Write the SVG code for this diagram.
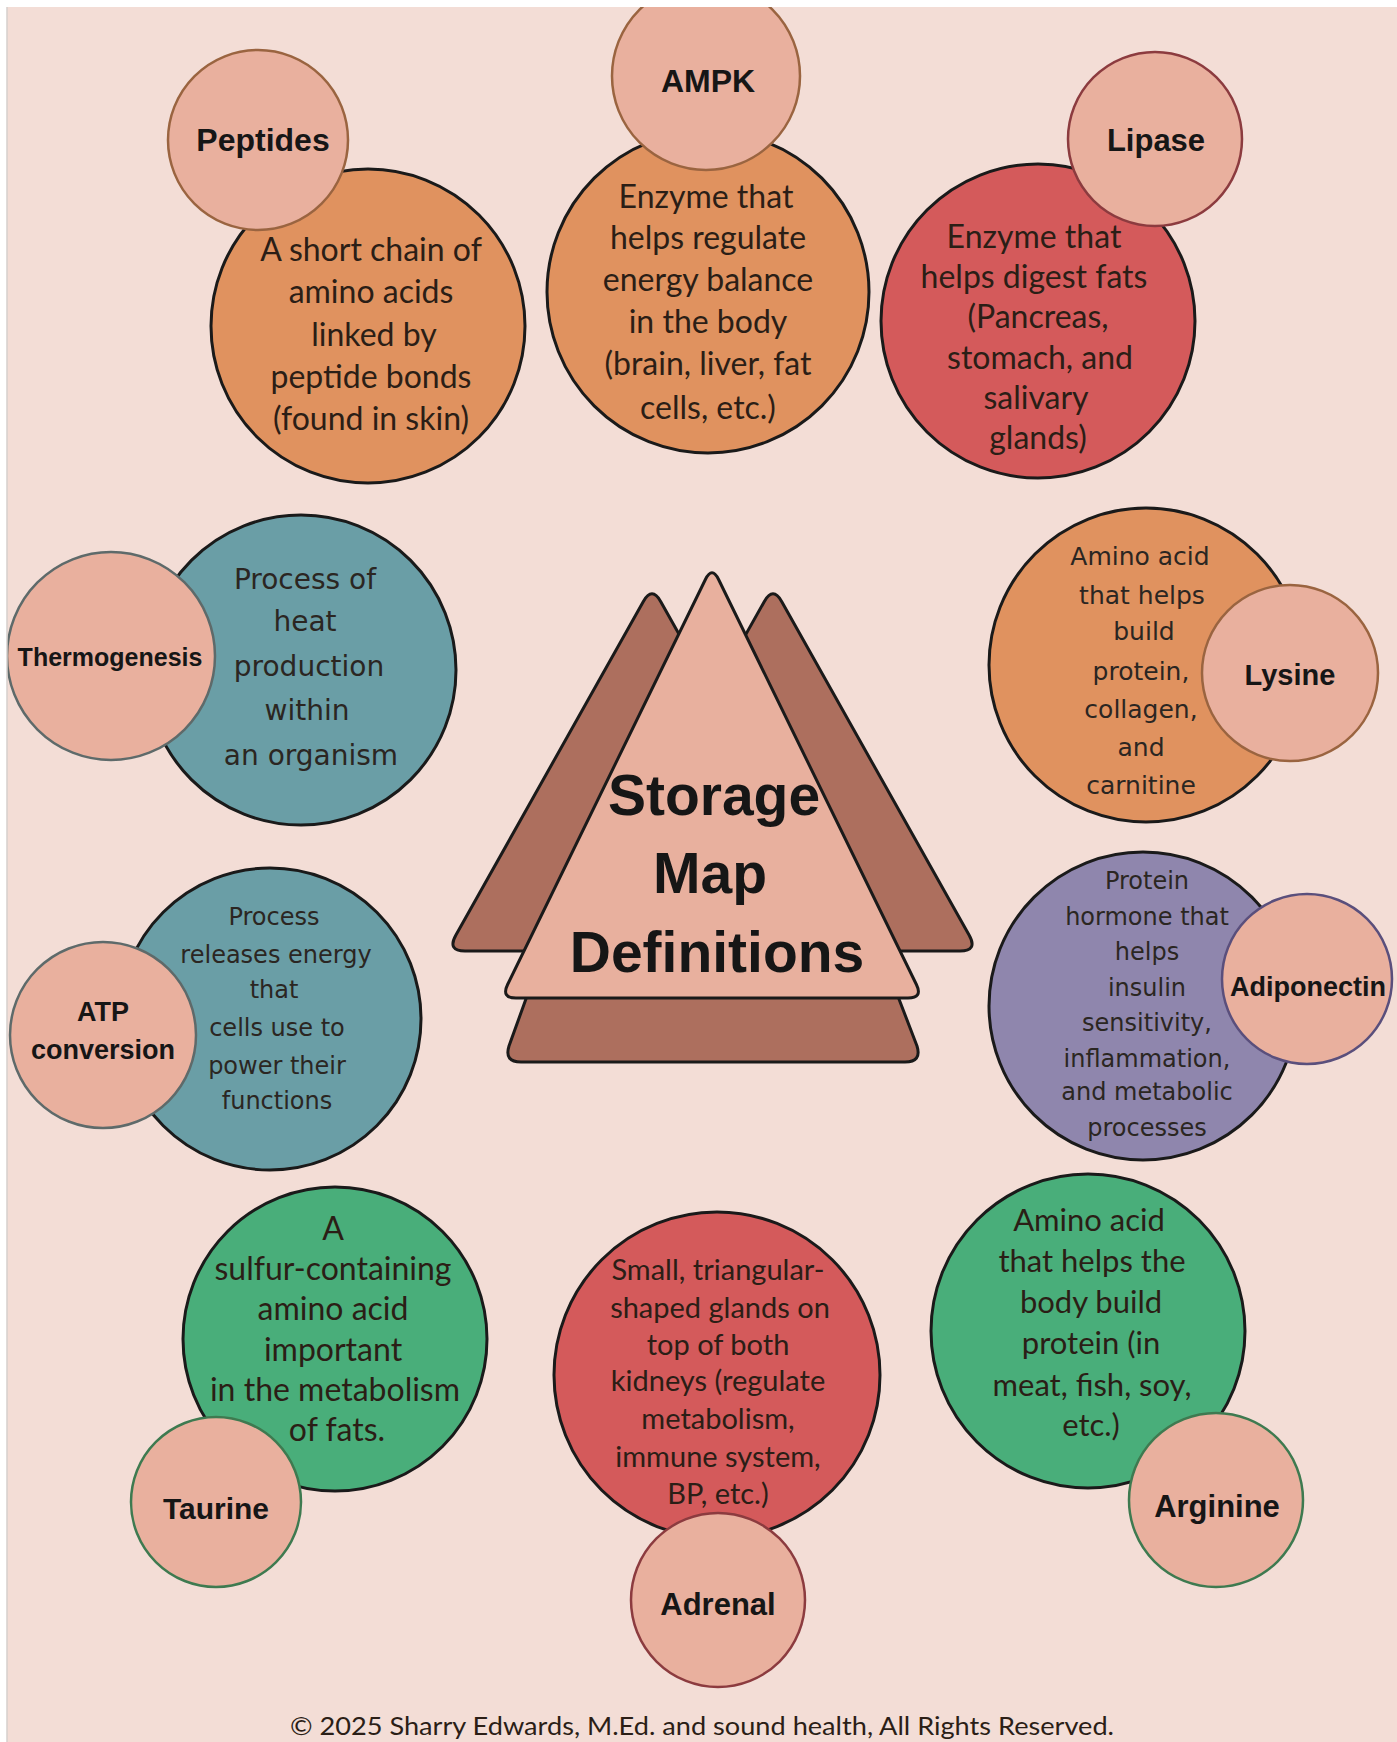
<svg xmlns="http://www.w3.org/2000/svg" width="1397" height="1742" viewBox="0 0 1397 1742">
<style>
.lbl{font-family:"Liberation Sans",Arial,sans-serif;font-weight:bold;fill:#161616;text-anchor:middle}
.d1{font-family:Lato,"Liberation Sans",sans-serif;fill:#2b1e16;text-anchor:middle}
.d2{font-family:"DejaVu Sans","Liberation Sans",sans-serif;fill:#2b2622;text-anchor:middle}
.big{stroke:#1a1a1a;stroke-width:3}
.sm{fill:#e9b09e;stroke-width:2.5}
.tri{stroke:#1a1a1a;stroke-width:3;stroke-linejoin:round}
</style>
<rect x="0" y="0" width="1397" height="1742" fill="#f3ddd6"/>

<g id="center">
  <path class="tri" fill="#ad6f5e" d="M540,960 L884,960 L917,1046 Q922,1062 905,1062 L521,1062 Q504,1062 509,1046 Z"/>
  <path class="tri" fill="#ad6f5e" d="M643.2,601.7 Q652,586 660.8,601.7 L857,951 L465,951 Q447,951 455.8,935.3 Z"/>
  <path class="tri" fill="#ad6f5e" d="M764.2,601.7 Q773,586 781.8,601.7 L969.2,935.3 Q978,951 960,951 L568,951 Z"/>
  <path class="tri" fill="#e8b09e" d="M705.4,579.5 Q712,566 718.6,579.5 L916.4,984.5 Q923,998 908,998 L516,998 Q501,998 507.6,984.5 Z"/>
  <text class="lbl" font-size="57" fill="#0a0a0a"><tspan x="714" y="815">Storage</tspan><tspan x="710" y="893">Map</tspan><tspan x="717" y="972">Definitions</tspan></text>
</g>

<g id="peptides">
  <circle class="big" cx="368" cy="326" r="157" fill="#e0925f"/>
  <text class="d1" font-size="32"><tspan x="371" y="261">A short chain of</tspan><tspan x="371" y="303">amino acids</tspan><tspan x="374" y="346">linked by</tspan><tspan x="371" y="388">peptide bonds</tspan><tspan x="371" y="430">(found in skin)</tspan></text>
  <circle class="sm" cx="258" cy="140" r="90" stroke="#9a6440"/>
  <text class="lbl" font-size="32" x="263" y="151">Peptides</text>
</g>

<g id="ampk">
  <circle class="big" cx="708" cy="292" r="161" fill="#e0925f"/>
  <text class="d1" font-size="32"><tspan x="706" y="208">Enzyme that</tspan><tspan x="708" y="249">helps regulate</tspan><tspan x="708" y="291">energy balance</tspan><tspan x="708" y="333">in the body</tspan><tspan x="708" y="375">(brain, liver, fat</tspan><tspan x="708" y="419">cells, etc.)</tspan></text>
  <circle class="sm" cx="706" cy="76" r="94" stroke="#9a6440"/>
  <text class="lbl" font-size="32" x="708" y="92">AMPK</text>
</g>

<g id="lipase">
  <circle class="big" cx="1038" cy="321" r="157" fill="#d45a5b"/>
  <text class="d1" font-size="32"><tspan x="1034" y="248">Enzyme that</tspan><tspan x="1034" y="288">helps digest fats</tspan><tspan x="1038" y="328">(Pancreas,</tspan><tspan x="1040" y="369">stomach, and</tspan><tspan x="1036" y="409">salivary</tspan><tspan x="1038" y="449">glands)</tspan></text>
  <circle class="sm" cx="1155" cy="139" r="87" stroke="#8c3b3f"/>
  <text class="lbl" font-size="31" x="1156" y="151">Lipase</text>
</g>

<g id="thermogenesis">
  <circle class="big" cx="301" cy="670" r="155" fill="#6a9ea6"/>
  <text class="d2" font-size="28"><tspan x="305" y="589">Process of</tspan><tspan x="305" y="631">heat</tspan><tspan x="309" y="676">production</tspan><tspan x="307" y="720">within</tspan><tspan x="311" y="765">an organism</tspan></text>
  <circle class="sm" cx="111" cy="656" r="104" stroke="#5e6a6a"/>
  <text class="lbl" font-size="25" x="110" y="666">Thermogenesis</text>
</g>

<g id="atp">
  <circle class="big" cx="270" cy="1019" r="151" fill="#6a9ea6"/>
  <text class="d2" font-size="24"><tspan x="274" y="925">Process</tspan><tspan x="276" y="963">releases energy</tspan><tspan x="274" y="998">that</tspan><tspan x="277" y="1036">cells use to</tspan><tspan x="277" y="1074">power their</tspan><tspan x="277" y="1109">functions</tspan></text>
  <circle class="sm" cx="103" cy="1035" r="93" stroke="#5e6a6a"/>
  <text class="lbl" font-size="27"><tspan x="103" y="1021">ATP</tspan><tspan x="103" y="1059">conversion</tspan></text>
</g>

<g id="lysine">
  <circle class="big" cx="1146" cy="665" r="157" fill="#e0925f"/>
  <text class="d2" font-size="25"><tspan x="1140" y="565">Amino acid</tspan><tspan x="1142" y="604">that helps</tspan><tspan x="1144" y="640">build</tspan><tspan x="1141" y="680">protein,</tspan><tspan x="1141" y="718">collagen,</tspan><tspan x="1141" y="756">and</tspan><tspan x="1141" y="794">carnitine</tspan></text>
  <circle class="sm" cx="1290" cy="673" r="88" stroke="#9a6440"/>
  <text class="lbl" font-size="29" x="1290" y="685">Lysine</text>
</g>

<g id="adiponectin">
  <circle class="big" cx="1143" cy="1006" r="154" fill="#8f86ad"/>
  <text class="d2" font-size="24"><tspan x="1147" y="889">Protein</tspan><tspan x="1147" y="925">hormone that</tspan><tspan x="1147" y="960">helps</tspan><tspan x="1147" y="996">insulin</tspan><tspan x="1147" y="1031">sensitivity,</tspan><tspan x="1147" y="1067">inflammation,</tspan><tspan x="1147" y="1100">and metabolic</tspan><tspan x="1147" y="1136">processes</tspan></text>
  <circle class="sm" cx="1307" cy="979" r="85" stroke="#5a4f7c"/>
  <text class="lbl" font-size="27" x="1308" y="996">Adiponectin</text>
</g>

<g id="taurine">
  <circle class="big" cx="335" cy="1339" r="152" fill="#49ae7a"/>
  <text class="d1" font-size="32"><tspan x="333" y="1240">A</tspan><tspan x="333" y="1280">sulfur-containing</tspan><tspan x="333" y="1320">amino acid</tspan><tspan x="333" y="1361">important</tspan><tspan x="335" y="1401">in the metabolism</tspan><tspan x="337" y="1441">of fats.</tspan></text>
  <circle class="sm" cx="216" cy="1502" r="85" stroke="#3e7a50"/>
  <text class="lbl" font-size="30" x="216" y="1519">Taurine</text>
</g>

<g id="adrenal">
  <circle class="big" cx="717" cy="1375" r="163" fill="#d45a5b"/>
  <text class="d1" font-size="29"><tspan x="718" y="1280">Small, triangular-</tspan><tspan x="720" y="1318">shaped glands on</tspan><tspan x="718" y="1355">top of both</tspan><tspan x="718" y="1391">kidneys (regulate</tspan><tspan x="718" y="1429">metabolism,</tspan><tspan x="718" y="1467">immune system,</tspan><tspan x="718" y="1504">BP, etc.)</tspan></text>
  <circle class="sm" cx="718" cy="1600" r="87" stroke="#8c3b3f"/>
  <text class="lbl" font-size="31" x="718" y="1615">Adrenal</text>
</g>

<g id="arginine">
  <circle class="big" cx="1088" cy="1331" r="157" fill="#49ae7a"/>
  <text class="d1" font-size="31"><tspan x="1089" y="1231">Amino acid</tspan><tspan x="1092" y="1272">that helps the</tspan><tspan x="1091" y="1313">body build</tspan><tspan x="1091" y="1354">protein (in</tspan><tspan x="1092" y="1396">meat, fish, soy,</tspan><tspan x="1091" y="1436">etc.)</tspan></text>
  <circle class="sm" cx="1216" cy="1500" r="87" stroke="#3e7a50"/>
  <text class="lbl" font-size="31" x="1217" y="1517">Arginine</text>
</g>

<g id="connectors"></g>

<text class="d1" font-size="25" x="702" y="1735" textLength="824" lengthAdjust="spacingAndGlyphs">© 2025 Sharry Edwards, M.Ed. and sound health, All Rights Reserved.</text>

<rect x="0" y="0" width="1397" height="7" fill="#ffffff"/>
<rect x="0" y="0" width="7" height="1742" fill="#ffffff"/>
<line x1="7" y1="7" x2="7" y2="1742" stroke="#d6cfcd" stroke-width="1.5"/>
</svg>
